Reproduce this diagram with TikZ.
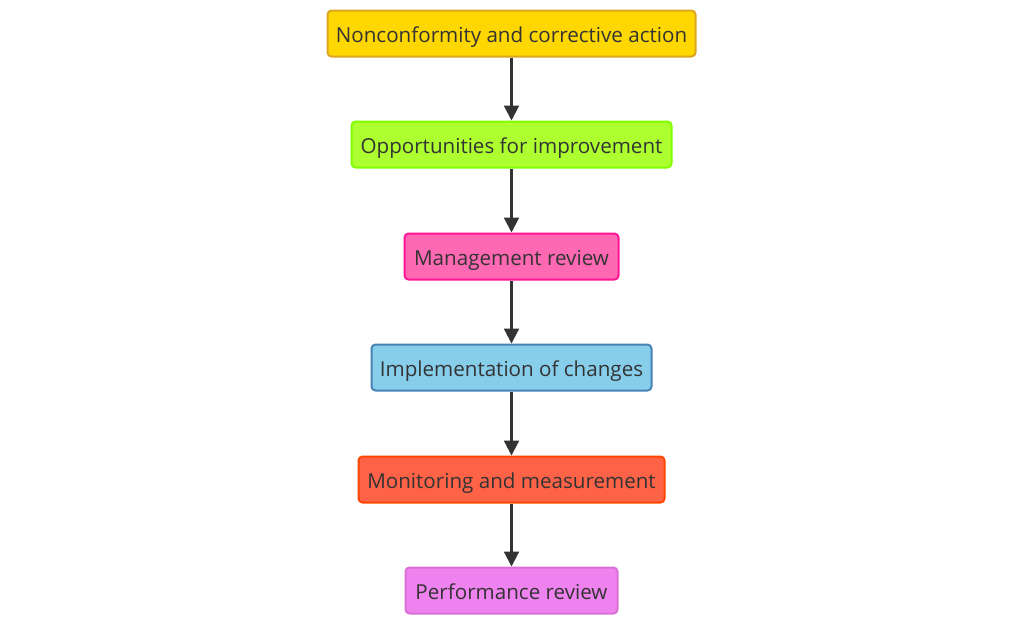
\documentclass[tikz,border=0pt]{standalone}
\usepackage{fontspec}
\setmainfont{Open Sans}
\usetikzlibrary{arrows.meta}
\definecolor{txt}{HTML}{333333}
\definecolor{f1}{HTML}{FFD700}\definecolor{d1}{HTML}{DAA520}
\definecolor{f2}{HTML}{ADFF2F}\definecolor{d2}{HTML}{7FFF00}
\definecolor{f3}{HTML}{FF69B4}\definecolor{d3}{HTML}{FF1493}
\definecolor{f4}{HTML}{87CEEB}\definecolor{d4}{HTML}{4682B4}
\definecolor{f5}{HTML}{FF6347}\definecolor{d5}{HTML}{FF4500}
\definecolor{f6}{HTML}{EE82EE}\definecolor{d6}{HTML}{DA70D6}
\tikzset{
  box/.style={rectangle, rounded corners=4pt, line width=2pt, minimum height=46pt, inner sep=0pt, text=txt, text height=17.5pt, text depth=0.5pt, font=\fontsize{20.6}{24}\selectfont},
  conn/.style={draw=txt, line width=2.2pt, -{Triangle[length=15pt,width=15pt]}}
}
\begin{document}
\begin{tikzpicture}[x=1pt,y=-1pt]
\useasboundingbox (0,0) rectangle (1024,625);
\node[box, fill=f1, draw=d1, minimum width=368pt] (a) at (511.5,33.5) {Nonconformity and corrective action};
\node[box, fill=f2, draw=d2, minimum width=320pt] (b) at (511.5,144.5) {Opportunities for improvement};
\node[box, fill=f3, draw=d3, minimum width=214pt] (c) at (511.5,256.5) {Management review};
\node[box, fill=f4, draw=d4, minimum width=280pt] (d) at (511.5,367.5) {Implementation of changes};
\node[box, fill=f5, draw=d5, minimum width=306pt] (e) at (511.5,479.5) {Monitoring and measurement};
\node[box, fill=f6, draw=d6, minimum width=212pt] (f) at (511.5,590.5) {Performance review};
\draw[conn] (a) -- (b);
\draw[conn] (b) -- (c);
\draw[conn] (c) -- (d);
\draw[conn] (d) -- (e);
\draw[conn] (e) -- (f);
\end{tikzpicture}
\end{document}
